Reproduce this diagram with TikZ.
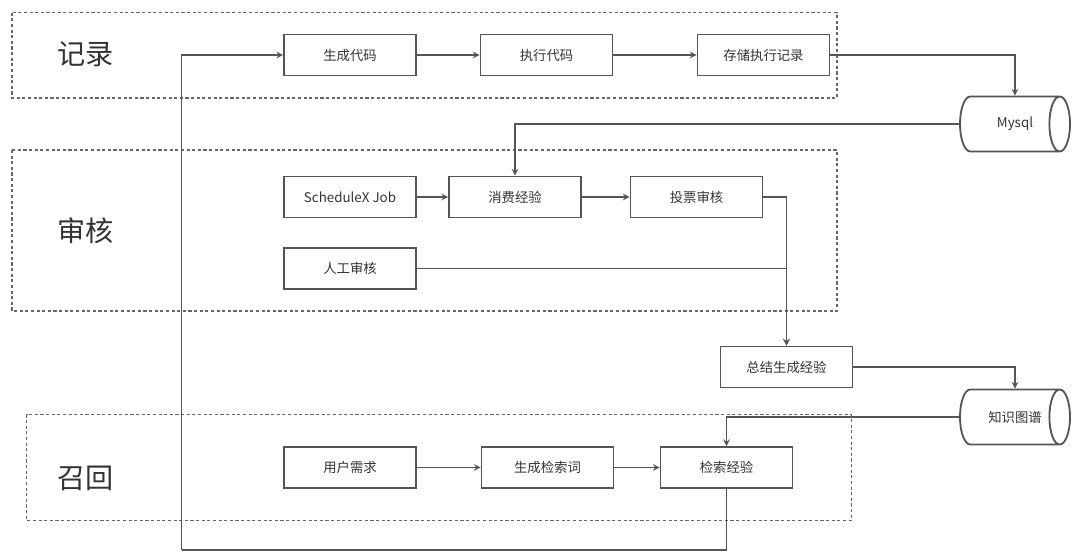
\documentclass[tikz,border=0pt]{standalone}
\usepackage{fontspec}
\setmainfont{Noto Sans CJK SC}
\usepackage{tikz}
\usetikzlibrary{shapes.geometric, arrows, positioning}
\definecolor{linegray}{HTML}{555555}
\definecolor{dashgray}{HTML}{666666}
\definecolor{textgray}{HTML}{333333}
\tikzstyle{process} = [rectangle, minimum width=3.3cm, minimum height=1.025cm, text centered, draw=linegray, line width=1.3pt, text=textgray, font=\fontsize{9.5}{11}\selectfont]
\tikzstyle{database} = [cylinder, shape border rotate=0, aspect=2.2, minimum height=2.75cm, minimum width=1.375cm, draw=linegray, line width=1.3pt, anchor=shape center]
\tikzstyle{dbtext} = [text=textgray, font=\fontsize{9.5}{11}\selectfont]
\tikzstyle{stage} = [draw=dashgray, line width=1pt, dash pattern=on 2.2pt off 1.8pt]
\tikzstyle{stagelabel} = [text=textgray, font=\fontsize{20}{24}\selectfont]
\tikzstyle{line} = [draw=linegray, line width=1.1pt, -stealth]
\tikzstyle{plain} = [draw=linegray, line width=1.1pt]

\begin{document}
\begin{tikzpicture}[x=0.025cm, y=-0.025cm]
        \useasboundingbox (0,0) rectangle (1080,557);

        % Stages
        \draw [stage] (12,12.7) rectangle (837,98);
        \draw [stage] (12,150) rectangle (837,311);
        \draw [stage] (26.5,414.5) rectangle (851.5,520.5);
        \node (record) [stagelabel] at (86,54) {记录};
        \node (review) [stagelabel] at (86,231) {审核};
        \node (recall) [stagelabel] at (86,478) {召回};

        % Record
        \node (gencode) [process] at (350,55) {生成代码};
        \node (runcode) [process] at (546.5,55) {执行代码};
        \node (saverun) [process] at (763.5,55) {存储执行记录};
        \node (mysql) [database] at (1015,124) {};
        \node (mysqltext) [dbtext] at (mysql.shape center) {Mysql};

        % Review
        \node (job) [process] at (350,197) {ScheduleX Job};
        \node (consume) [process] at (515,197) {消费经验};
        \node (vote) [process] at (696.5,197) {投票审核};
        \node (manual) [process] at (350,268.5) {人工审核};
        \node (summary) [process] at (786.5,367) {总结生成经验};
        \node (graph) [database] at (1015,417) {};
        \node (graphtext) [dbtext] at (graph.shape center) {知识图谱};

        % Recall
        \node (need) [process] at (350,467.5) {用户需求};
        \node (keyword) [process] at (547.5,467.5) {生成检索词};
        \node (search) [process] at (726.5,467.5) {检索经验};
        \coordinate (loop) at (181.5,550);

        % Draw edges
        \path [line] (gencode) -- (runcode);
        \path [line] (runcode) -- (saverun);
        \path [line] (saverun) -| (mysql.north -| mysql.shape center);
        \path [line] (mysql.west) -| (consume.north);
        \path [line] (job) -- (consume);
        \path [line] (consume) -- (vote);
        \path [line] (vote) -| (summary.north);
        \path [line] (manual) -| (summary.north);
        \path [line] (summary) -| (graph.north -| graph.shape center);
        \path [line] (graph.west) -| (search.north);
        \path [line] (need) -- (keyword);
        \path [line] (keyword) -- (search);
        \path [plain] (search.south) |- (loop);
        \path [line] (loop) |- (gencode.west);

\end{tikzpicture}
\end{document}
